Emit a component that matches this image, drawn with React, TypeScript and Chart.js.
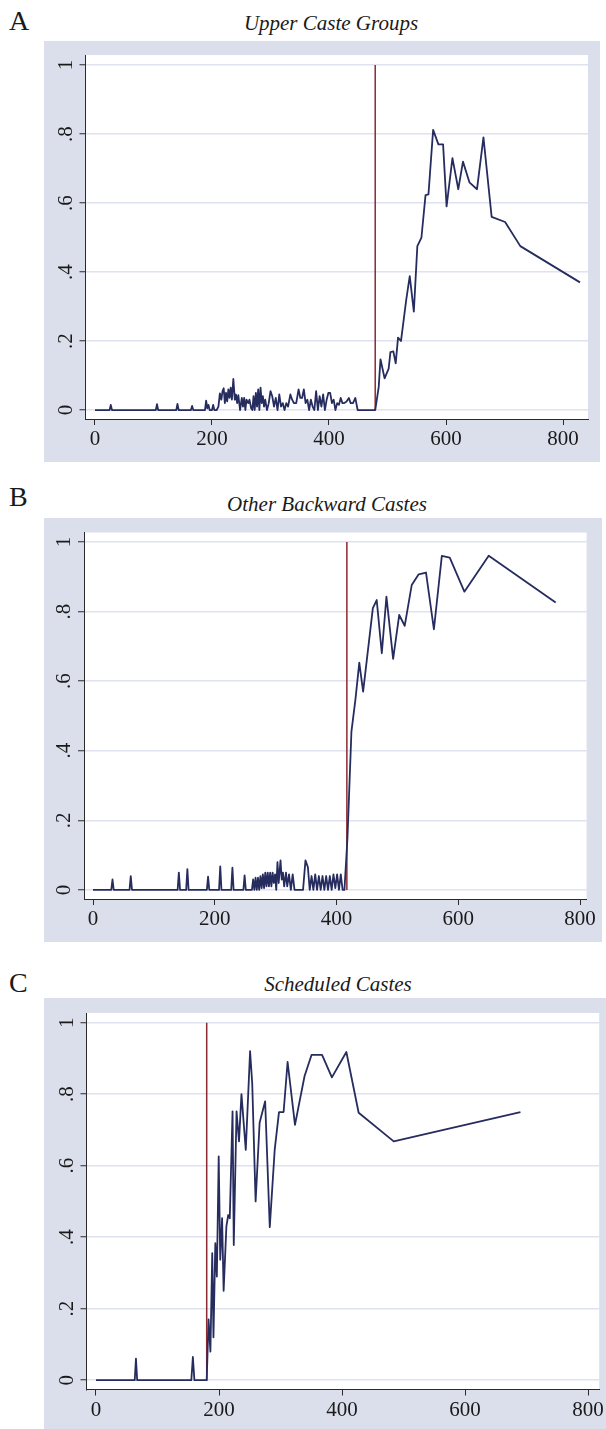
import React, { useEffect, useRef } from 'react';
import { Chart, registerables } from 'chart.js';

Chart.register(...registerables);

// ---------- data ----------
const xTickValues = [0, 200, 400, 600, 800];
const yTickValues = [0, 0.2, 0.4, 0.6, 0.8, 1];
const yTickLabels = ['0', '.2', '.4', '.6', '.8', '1'];

const upperTitle = 'Upper Caste Groups';
const upperCutoff = 479;
const upperX = [0, 25, 27, 29, 104, 106, 108, 139, 141, 143, 164, 166, 168, 188, 190, 192, 194, 196, 200, 202, 204, 208, 211, 213.5, 216, 218, 220, 222, 224, 226, 228, 230, 232, 234, 236.5, 239, 241, 243, 245, 248, 251, 253, 255, 257, 259, 262, 264, 267, 269, 271, 273, 275, 277, 279, 281, 283, 285, 287, 289, 291, 294, 297, 300, 303, 306, 309, 312, 315, 318, 321, 324, 327, 330, 334, 337, 340, 344, 348, 351, 354, 357, 360, 363, 366, 369, 372, 375, 378, 381, 384, 387, 390, 393, 396, 399, 402, 405, 408, 411, 414, 417, 420, 423, 426, 430, 434, 437, 441, 445, 449, 476, 479, 485, 488, 495, 502, 505, 510, 514, 518, 523, 532, 538, 545, 551, 558, 565, 570, 578, 587, 595, 601, 611, 621, 629, 640, 653, 664, 678, 701, 727, 829];
const upperY = [0, 0, 0.015, 0, 0, 0.017, 0, 0, 0.018, 0, 0, 0.012, 0, 0, 0.027, 0.005, 0.015, 0, 0, 0.015, 0, 0, 0.01, 0.048, 0.03, 0.055, 0.063, 0.02, 0.05, 0.025, 0.06, 0.035, 0.065, 0.03, 0.09, 0.03, 0.045, 0.02, 0.043, 0, 0.035, 0.01, 0.035, 0, 0.03, 0.02, 0.03, 0.005, 0, 0.04, 0, 0.05, 0.01, 0.06, 0, 0.065, 0.02, 0.04, 0.01, 0.03, 0, 0.02, 0.055, 0.04, 0.01, 0.035, 0, 0.045, 0.01, 0.02, 0, 0.02, 0.01, 0.045, 0.03, 0.02, 0.02, 0.06, 0.035, 0.035, 0.06, 0.02, 0.03, 0, 0.03, 0.01, 0, 0.055, 0, 0.04, 0.01, 0.045, 0, 0.03, 0.05, 0.05, 0.02, 0.03, 0, 0.02, 0.015, 0.035, 0.02, 0.02, 0.025, 0.035, 0.02, 0.02, 0.035, 0, 0, 0, 0.067, 0.147, 0.092, 0.12, 0.168, 0.17, 0.135, 0.21, 0.2, 0.319, 0.388, 0.285, 0.475, 0.5, 0.623, 0.625, 0.812, 0.77, 0.77, 0.59, 0.73, 0.64, 0.72, 0.66, 0.64, 0.79, 0.56, 0.545, 0.475, 0.37];

const obcTitle = 'Other Backward Castes';
const obcCutoff = 417;
const obcX = [0, 30, 32, 34, 60, 62, 64, 139, 141, 143, 153, 155, 157, 187, 189, 191, 207, 209, 211, 227, 229, 231, 247, 249, 251, 261, 263, 265, 267, 269, 271, 273, 275, 277, 279, 281, 283, 285, 287, 289, 291, 293, 295, 297, 299, 301, 303, 305, 308, 310, 312, 314, 317, 319, 322, 325, 328, 331, 345, 349, 353, 356, 359, 362, 365, 368, 371, 374, 377, 380, 383, 386, 389, 392, 395, 398, 401, 404, 407, 410, 413, 418, 424.5, 431, 437.4, 443.7, 459.7, 466, 474.4, 482, 493, 503, 512, 523.5, 535, 547, 560, 573, 586, 610, 650, 760];
const obcY = [0, 0, 0.03, 0, 0, 0.04, 0, 0, 0.05, 0, 0, 0.06, 0, 0, 0.038, 0, 0, 0.068, 0, 0, 0.064, 0, 0, 0.042, 0, 0, 0.03, 0, 0.035, 0, 0.035, 0, 0.04, 0.005, 0.045, 0.005, 0.05, 0.01, 0.05, 0.01, 0.05, 0.01, 0.05, 0.02, 0.045, 0, 0.08, 0.02, 0.085, 0.03, 0.05, 0.01, 0.05, 0.01, 0.045, 0, 0.045, 0, 0, 0.085, 0.065, 0, 0.04, 0, 0.045, 0, 0.04, 0, 0.04, 0, 0.04, 0, 0.04, 0, 0.045, 0.005, 0.045, 0, 0.045, 0, 0, 0.15, 0.455, 0.546, 0.653, 0.57, 0.81, 0.833, 0.68, 0.843, 0.664, 0.79, 0.759, 0.876, 0.907, 0.912, 0.749, 0.96, 0.955, 0.857, 0.96, 0.826];

const scTitle = 'Scheduled Castes';
const scCutoff = 180;
const scX = [0, 63, 65, 67, 155, 157.5, 160, 180, 183, 186, 189, 191, 194, 196.5, 199.5, 202, 205, 207.5, 212, 215, 217.5, 222, 224, 228.5, 232.5, 236.5, 243.5, 250.5, 254, 259.5, 266, 275, 282.5, 290.5, 297.5, 305, 311.5, 323.5, 339, 350.5, 367.5, 383.5, 407, 427, 484, 690];
const scY = [0, 0, 0.06, 0, 0, 0.065, 0, 0, 0.17, 0.08, 0.355, 0.12, 0.383, 0.29, 0.626, 0.337, 0.453, 0.25, 0.43, 0.462, 0.453, 0.752, 0.378, 0.752, 0.668, 0.8, 0.644, 0.92, 0.83, 0.5, 0.72, 0.78, 0.428, 0.644, 0.75, 0.75, 0.89, 0.714, 0.85, 0.91, 0.91, 0.847, 0.918, 0.748, 0.668, 0.75];

// ---------- styles ----------
const NAVY = '#262c5e';
const MAROON = '#8b2a30';
const BG = '#dbdfec';
const GRID = '#dfe2ef';
const AXIS = '#2a2a2a';
const TEXT = '#1a1a1a';
const SERIF = '"Liberation Serif", "Times New Roman", serif';

interface Panel {
  letter: string;
  title: string;
  xs: number[];
  ys: number[];
  cutoff: number;
  left: number;
  top: number;
  width: number;
  height: number;
  padRight: number;
  padTop: number;
  yAxisW: number;
  xAxisH: number;
  xMin: number;
  xMax: number;
  yMin: number;
  yMax: number;
  letterTop: number;
  titleTop: number;
  titleCenter: number;
}

const panels: Panel[] = [
  {
    letter: 'A', title: upperTitle, xs: upperX, ys: upperY, cutoff: upperCutoff,
    left: 44, top: 41, width: 556, height: 421,
    padRight: 12, padTop: 14, yAxisW: 41.5, xAxisH: 43,
    xMin: -16.2, xMax: 842.7, yMin: -0.026, yMax: 1.029,
    letterTop: 7.3, titleTop: 13.4, titleCenter: 331,
  },
  {
    letter: 'B', title: obcTitle, xs: obcX, ys: obcY, cutoff: obcCutoff,
    left: 44, top: 518, width: 558, height: 424,
    padRight: 15.4, padTop: 14.5, yAxisW: 40, xAxisH: 43,
    xMin: -14.8, xMax: 810.8, yMin: -0.026, yMax: 1.027,
    letterTop: 483.3, titleTop: 494.1, titleCenter: 327,
  },
  {
    letter: 'C', title: scTitle, xs: scX, ys: scY, cutoff: scCutoff,
    left: 44, top: 998, width: 562, height: 431,
    padRight: 6, padTop: 15, yAxisW: 42.5, xAxisH: 39.5,
    xMin: -15.4, xMax: 818, yMin: -0.026, yMax: 1.027,
    letterTop: 969.3, titleTop: 974.1, titleCenter: 338,
  },
];

const backgroundPlugin = {
  id: 'stataBackground',
  beforeDraw(chart: any) {
    const { ctx, chartArea, width, height } = chart;
    ctx.save();
    ctx.fillStyle = BG;
    ctx.fillRect(0, 0, width, height);
    ctx.fillStyle = '#ffffff';
    ctx.fillRect(chartArea.left, chartArea.top, chartArea.right - chartArea.left, chartArea.bottom - chartArea.top);
    ctx.restore();
  },
};

const yLabelPlugin = {
  id: 'rotatedYLabels',
  afterDraw(chart: any) {
    const { ctx, chartArea } = chart;
    const ys = chart.scales.y;
    ctx.save();
    ctx.font = `21px ${SERIF}`;
    ctx.fillStyle = TEXT;
    ctx.textAlign = 'center';
    ctx.textBaseline = 'alphabetic';
    yTickValues.forEach((v, i) => {
      const py = ys.getPixelForValue(v);
      ctx.save();
      ctx.translate(chartArea.left - 14, py);
      ctx.rotate(-Math.PI / 2);
      ctx.fillText(yTickLabels[i], 0, 0);
      ctx.restore();
    });
    ctx.restore();
  },
};

function PanelChart({ p }: { p: Panel }) {
  const ref = useRef<HTMLCanvasElement | null>(null);
  useEffect(() => {
    if (!ref.current) return;
    const chart = new Chart(ref.current, {
      type: 'line',
      data: {
        datasets: [
          {
            data: p.xs.map((x, i) => ({ x, y: p.ys[i] })),
            borderColor: NAVY,
            borderWidth: 1.8,
            pointRadius: 0,
            tension: 0,
            fill: false,
            borderJoinStyle: 'round',
          },
          {
            data: [{ x: p.cutoff, y: 0 }, { x: p.cutoff, y: 1 }],
            borderColor: MAROON,
            borderWidth: 1.5,
            pointRadius: 0,
            fill: false,
          },
        ],
      },
      options: {
        animation: false,
        responsive: false,
        maintainAspectRatio: false,
        layout: { padding: { left: 0, right: p.padRight, top: p.padTop, bottom: 0 } },
        plugins: {
          legend: { display: false },
          tooltip: { enabled: false },
          title: { display: false },
        },
        scales: {
          x: {
            type: 'linear',
            min: p.xMin,
            max: p.xMax,
            afterBuildTicks: (s: any) => { s.ticks = xTickValues.map((value) => ({ value })); },
            afterFit: (s: any) => { s.height = p.xAxisH; },
            grid: { drawOnChartArea: false, drawTicks: true, tickLength: 6, tickColor: AXIS, tickWidth: 1 },
            border: { display: true, color: AXIS, width: 1 },
            ticks: {
              font: { family: SERIF, size: 21 },
              color: TEXT,
              padding: 2,
              maxRotation: 0,
              minRotation: 0,
              autoSkip: false,
              callback: (v: any) => String(v),
            },
          },
          y: {
            type: 'linear',
            min: p.yMin,
            max: p.yMax,
            afterBuildTicks: (s: any) => { s.ticks = yTickValues.map((value) => ({ value })); },
            afterFit: (s: any) => { s.width = p.yAxisW; },
            grid: { color: GRID, lineWidth: 1.5, drawTicks: true, tickLength: 6, tickColor: AXIS, tickWidth: 1 },
            border: { display: true, color: AXIS, width: 1 },
            ticks: { display: false },
          },
        },
      },
      plugins: [backgroundPlugin, yLabelPlugin],
    } as any);
    return () => chart.destroy();
  }, [p]);

  return (
    <>
      <div
        style={{
          position: 'absolute', left: 9, top: p.letterTop, fontFamily: SERIF,
          fontSize: 28, lineHeight: '28px', color: TEXT,
        }}
      >
        {p.letter}
      </div>
      <div
        style={{
          position: 'absolute', left: p.titleCenter - 200, width: 400, top: p.titleTop,
          textAlign: 'center', fontFamily: SERIF, fontStyle: 'italic', fontSize: 21,
          lineHeight: '21px', color: TEXT, whiteSpace: 'nowrap',
        }}
      >
        {p.title}
      </div>
      <canvas
        ref={ref}
        width={p.width}
        height={p.height}
        style={{ position: 'absolute', left: p.left, top: p.top, width: p.width, height: p.height }}
      />
    </>
  );
}

export default function App() {
  return (
    <div style={{ position: 'absolute', left: 0, top: 0, width: 606, height: 1429, background: '#ffffff', overflow: 'hidden' }}>
      {panels.map((p) => (
        <PanelChart key={p.letter} p={p} />
      ))}
    </div>
  );
}
